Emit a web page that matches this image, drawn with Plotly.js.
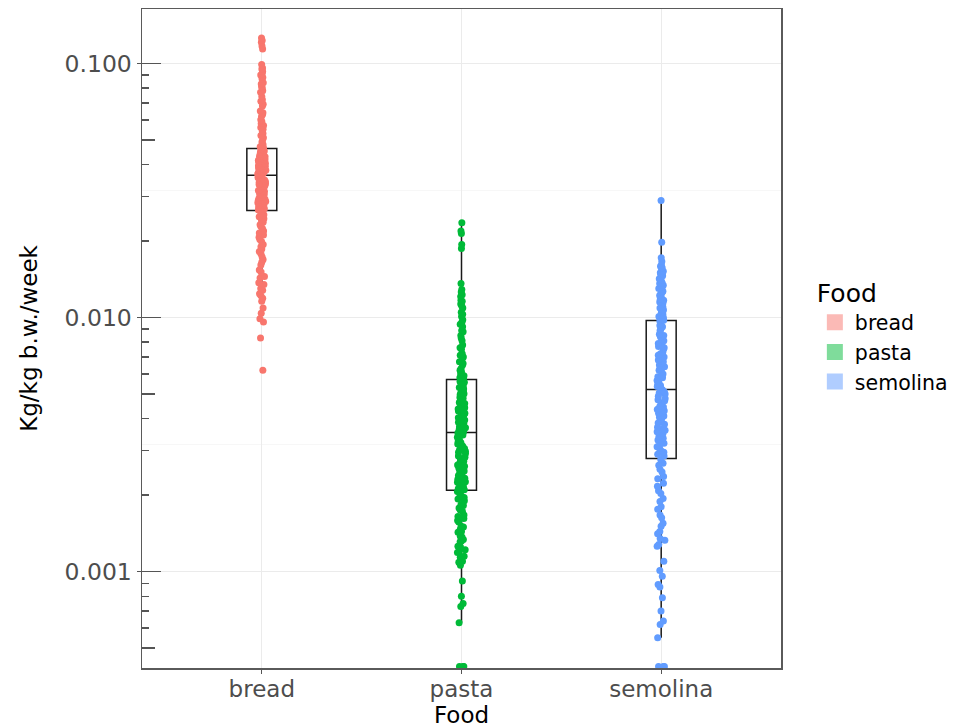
<!DOCTYPE html>
<html>
<head>
<meta charset="utf-8">
<script src="https://cdn.plot.ly/plotly-3.0.1.min.js"></script>
<style>html,body{margin:0;padding:0;background:#fff;}#chart{width:962px;height:728px;}</style>
</head>
<body>
<div id="chart"></div>
<script>
// ---- data ----
const categories = ['bread', 'pasta', 'semolina'];

const breadValues = [
  0.126, 0.123, 0.121, 0.117, 0.114,
  0.099, 0.096, 0.093, 0.091, 0.088, 0.087, 0.084, 0.081, 0.080, 0.077, 0.074, 0.072, 0.071, 0.068, 0.065,
  0.064, 0.062, 0.060, 0.059, 0.057, 0.056, 0.054, 0.053, 0.052, 0.050, 0.049, 0.048, 0.0475, 0.047, 0.0466,
  0.095, 0.090, 0.083, 0.078, 0.069, 0.063, 0.058, 0.055, 0.051,
  0.0461, 0.0457, 0.0452, 0.0448, 0.0446, 0.0441, 0.0436, 0.0433, 0.0429, 0.0424, 0.0421, 0.0416, 0.0412, 0.0410,
  0.0405, 0.0402, 0.0397, 0.0394, 0.0392, 0.0388, 0.0384, 0.0381, 0.0380, 0.0377, 0.0374, 0.0373, 0.0371, 0.0369,
  0.0367, 0.0366, 0.0365, 0.0364, 0.0372, 0.0403, 0.0431, 0.0455, 0.0438, 0.0418, 0.0396, 0.0386, 0.0378,
  0.0362, 0.0358, 0.0355, 0.0350, 0.0348, 0.0343, 0.0341, 0.0336, 0.0334, 0.0330, 0.0325, 0.0323, 0.0318, 0.0316,
  0.0311, 0.0307, 0.0305, 0.0299, 0.0297, 0.0294, 0.0289, 0.0288, 0.0283, 0.0282, 0.0277, 0.0276, 0.0272, 0.0271,
  0.0268, 0.0266, 0.0265, 0.0356, 0.0328, 0.0302, 0.0279, 0.0346, 0.0313, 0.0292, 0.0286,
  0.0262, 0.0254, 0.0249, 0.0241, 0.0237, 0.0228, 0.0224, 0.0215, 0.0211, 0.0203, 0.0199, 0.0190, 0.0186, 0.0178,
  0.0173, 0.0165, 0.0161, 0.0154, 0.0151, 0.0145, 0.0143, 0.0137, 0.0135, 0.0130, 0.0128, 0.0124, 0.0122, 0.0119, 0.0116,
  0.0258, 0.0245, 0.0232, 0.0219, 0.0207, 0.0194, 0.0182, 0.0169,
  0.0109, 0.0104, 0.0099, 0.0096, 0.0083, 0.0062
];

const pastaValues = [
  0.0236, 0.0219, 0.0214, 0.0194, 0.0187,
  0.0136, 0.0129, 0.0123, 0.0121, 0.0117, 0.0116, 0.0111, 0.0109, 0.0105, 0.0103, 0.0098, 0.0096, 0.0094, 0.0089,
  0.0088, 0.0083, 0.0081, 0.0078, 0.0076, 0.0075, 0.0072, 0.0071, 0.0069, 0.0066, 0.0065, 0.0063, 0.0062, 0.0061,
  0.0059, 0.0058, 0.0058, 0.00575, 0.0126, 0.0113, 0.0101, 0.0092, 0.0085, 0.0070, 0.0067, 0.0060,
  0.00568, 0.00560, 0.00556, 0.00548, 0.00543, 0.00535, 0.00531, 0.00523, 0.00518, 0.00510, 0.00506, 0.00497,
  0.00493, 0.00485, 0.00481, 0.00472, 0.00467, 0.00459, 0.00455, 0.00446, 0.00442, 0.00433, 0.00429, 0.00420,
  0.00416, 0.00408, 0.00403, 0.00395, 0.00391, 0.00383, 0.00379, 0.00371, 0.00368, 0.00361, 0.00359, 0.00355, 0.00354,
  0.00538, 0.00501, 0.00463, 0.00437, 0.00411, 0.00387, 0.00364,
  0.00351, 0.00345, 0.00342, 0.00335, 0.00332, 0.00325, 0.00322, 0.00315, 0.00312, 0.00305, 0.00302, 0.00295,
  0.00292, 0.00285, 0.00282, 0.00275, 0.00272, 0.00265, 0.00263, 0.00257, 0.00255, 0.00249, 0.00247, 0.00241,
  0.00239, 0.00233, 0.00231, 0.00226, 0.00225, 0.00220, 0.00219, 0.00215, 0.00214, 0.00212, 0.00211, 0.00210, 0.00209,
  0.00338, 0.00318, 0.00298, 0.00278, 0.00260, 0.00244, 0.00228,
  0.00207, 0.00202, 0.00199, 0.00193, 0.00190, 0.00184, 0.00182, 0.00175, 0.00173, 0.00167, 0.00165, 0.00159,
  0.00157, 0.00151, 0.00150, 0.00144, 0.00143, 0.00138, 0.00137, 0.00132, 0.00131, 0.00126, 0.00125, 0.00120,
  0.00119, 0.00115, 0.00114, 0.00110, 0.00109, 0.00106, 0.00196, 0.00178, 0.00162, 0.00147, 0.00134, 0.00122,
  0.00092, 0.00080, 0.00075, 0.00073, 0.00063,
  0.000424, 0.000424, 0.000424
];

const semolinaValues = [
  0.0289, 0.0198, 0.0172, 0.0166,
  0.0161, 0.0157, 0.0156, 0.0152, 0.0150, 0.0147, 0.0146, 0.0142, 0.0140, 0.0137, 0.0136, 0.0132, 0.0130, 0.0127,
  0.0126, 0.0122, 0.0121, 0.0118, 0.0117, 0.0114, 0.0113, 0.0110, 0.0109, 0.0106, 0.0105, 0.0103, 0.0102, 0.0101,
  0.0100, 0.0099, 0.0098, 0.00978, 0.00975, 0.0159, 0.0148, 0.0134, 0.0124, 0.0115, 0.0107,
  0.0097, 0.0094, 0.0093, 0.0090, 0.0089, 0.0086, 0.0085, 0.0082, 0.0081, 0.0078, 0.0077, 0.0076, 0.0073, 0.0072,
  0.0070, 0.0069, 0.0068, 0.0066, 0.0065, 0.0064, 0.0062, 0.0061, 0.0060, 0.0059, 0.0058, 0.0057, 0.0056, 0.0055,
  0.0054, 0.0053, 0.00535, 0.00545, 0.00565, 0.00585, 0.0063, 0.0067, 0.0075, 0.0092, 0.0084, 0.0079, 0.0071,
  0.0052, 0.0051, 0.0050, 0.0049, 0.0048, 0.0047, 0.0046, 0.0045, 0.0044, 0.0043, 0.0042, 0.0041, 0.0040, 0.0039,
  0.0038, 0.0037, 0.0036, 0.0035, 0.0034, 0.0033, 0.0032, 0.0031, 0.0030, 0.0029, 0.00285, 0.00295, 0.00305,
  0.00315, 0.00325, 0.00345, 0.00365, 0.00385, 0.00405, 0.00425, 0.00445, 0.00475, 0.00505, 0.00335, 0.00355, 0.00435,
  0.00276, 0.00267, 0.00262, 0.00253, 0.00247, 0.00237, 0.00232, 0.00223, 0.00217, 0.00208, 0.00203, 0.00194,
  0.00189, 0.00180, 0.00176, 0.00167, 0.00163, 0.00155, 0.00151, 0.00144, 0.00141, 0.00135, 0.00133, 0.00128, 0.00126,
  0.00110, 0.00101, 0.00096, 0.00089, 0.00087, 0.00079, 0.00070, 0.00064, 0.00062, 0.00055,
  0.000424, 0.000424, 0.000424
];

// box statistics (log scale)
const boxQ1 = [0.0264, 0.00209, 0.00279];
const boxMedian = [0.0363, 0.00353, 0.00521];
const boxQ3 = [0.0463, 0.0057, 0.00973];
const boxLowerWhisker = [0.0116, 0.00063, 0.00055];
const boxUpperWhisker = [0.099, 0.0236, 0.0289];

// y tick labels
const yTickVals = [0.001, 0.01, 0.1];
const yTickText = ['0.001', '0.010', '0.100'];
const yMinorGrid = [0.000316, 0.00316, 0.0316];
const logTickDecades = [0.001, 0.01, 0.1];
const logTickFives = [0.0005, 0.005, 0.05];
const logTickOthers = [0.0006, 0.0007, 0.0008, 0.0009, 0.002, 0.003, 0.004, 0.006, 0.007, 0.008, 0.009,
                       0.02, 0.03, 0.04, 0.06, 0.07, 0.08, 0.09];

// ---- styles ----
const colors = ['#F8766D', '#00BA38', '#619CFF'];
const legendColors = ['rgba(248,118,109,0.5)', 'rgba(0,186,56,0.5)', 'rgba(97,156,255,0.5)'];
const FONT = 'DejaVu Sans, Verdana, sans-serif';
const yRange = [-3.379, -0.786];

const seriesValues = [breadValues, pastaValues, semolinaValues];

const traces = [];
// black boxes (precomputed)
traces.push({
  type: 'box',
  x: categories,
  q1: boxQ1, median: boxMedian, q3: boxQ3,
  lowerfence: boxLowerWhisker, upperfence: boxUpperWhisker,
  boxpoints: false,
  width: 0.15,
  whiskerwidth: 0,
  line: {color: '#1a1a1a', width: 1.5},
  fillcolor: 'rgba(255,255,255,0)',
  showlegend: false,
  hoverinfo: 'skip'
});
// jittered points
categories.forEach((c, i) => {
  traces.push({
    type: 'box',
    name: c,
    x: seriesValues[i].map(() => c),
    y: seriesValues[i],
    boxpoints: 'all',
    jitter: 0.26,
    pointpos: 0,
    width: 0.16,
    line: {width: 0, color: 'rgba(0,0,0,0)'},
    fillcolor: 'rgba(0,0,0,0)',
    marker: {color: colors[i], size: 7, opacity: 1},
    showlegend: false,
    hoverinfo: 'skip'
  });
});
// legend entries
categories.forEach((c, i) => {
  traces.push({
    type: 'scatter',
    mode: 'markers',
    name: c,
    x: [null], y: [null],
    marker: {symbol: 'square', size: 18, color: legendColors[i], line: {width: 0}},
    showlegend: true,
    hoverinfo: 'skip'
  });
});
// empty carriers so the log-tick overlay axes get drawn
['y2', 'y3', 'y4'].forEach(ax => {
  traces.push({type: 'scatter', mode: 'markers', x: [null], y: [null], yaxis: ax, showlegend: false, hoverinfo: 'skip'});
});

function logTickAxis(vals, len) {
  return {
    overlaying: 'y', anchor: 'x', side: 'left', type: 'log', range: yRange, autorange: false,
    showgrid: false, zeroline: false, showline: false, showticklabels: false,
    ticks: 'inside', ticklen: len, tickwidth: 1.5, tickcolor: '#555555',
    tickmode: 'array', tickvals: vals
  };
}

const layout = {
  width: 962, height: 728,
  margin: {l: 142, r: 177, t: 9, b: 60, pad: 0},
  paper_bgcolor: '#ffffff', plot_bgcolor: '#ffffff',
  font: {family: FONT, color: '#000000'},
  boxmode: 'overlay', boxgap: 0, boxgroupgap: 0,
  showlegend: true,
  legend: {
    x: 1.053, xanchor: 'left', y: 0.604, yanchor: 'top',
    title: {text: 'Food', font: {size: 25, color: '#000000', family: FONT}},
    font: {size: 20.5, color: '#000000', family: FONT},
    itemsizing: 'trace', tracegroupgap: 0, bgcolor: 'rgba(0,0,0,0)'
  },
  xaxis: {
    type: 'category', categoryorder: 'array', categoryarray: categories,
    range: [-0.6, 2.6], autorange: false,
    showgrid: true, gridcolor: '#EBEBEB', gridwidth: 1.1,
    zeroline: false,
    showline: true, mirror: true, linecolor: '#5a5a5a', linewidth: 1.5,
    ticks: 'outside', ticklen: 4, tickwidth: 1.2, tickcolor: '#555555',
    ticklabelstandoff: -4,
    tickfont: {size: 23, color: '#4D4D4D', family: FONT},
    title: {text: 'Food', font: {size: 23, color: '#000000', family: FONT}, standoff: 12},
    automargin: false
  },
  yaxis: {
    type: 'log', range: yRange, autorange: false,
    tickmode: 'array', tickvals: yTickVals, ticktext: yTickText,
    showgrid: true, gridcolor: '#EBEBEB', gridwidth: 1.1,
    minor: {tickvals: yMinorGrid, showgrid: true, gridcolor: '#F2F2F2', gridwidth: 0.6, ticks: ''},
    zeroline: false,
    showline: true, mirror: true, linecolor: '#5a5a5a', linewidth: 1.5,
    ticks: 'outside', ticklen: 4, tickwidth: 1.2, tickcolor: '#555555',
    tickfont: {size: 23.5, color: '#4D4D4D', family: FONT},
    title: {text: 'Kg/kg b.w./week', font: {size: 23, color: '#000000', family: FONT}, standoff: 20},
    automargin: false
  },
  yaxis2: logTickAxis(logTickDecades, 19),
  yaxis3: logTickAxis(logTickFives, 13),
  yaxis4: logTickAxis(logTickOthers, 7)
};

Plotly.newPlot('chart', traces, layout, {staticPlot: true, displayModeBar: false});
</script>
</body>
</html>
